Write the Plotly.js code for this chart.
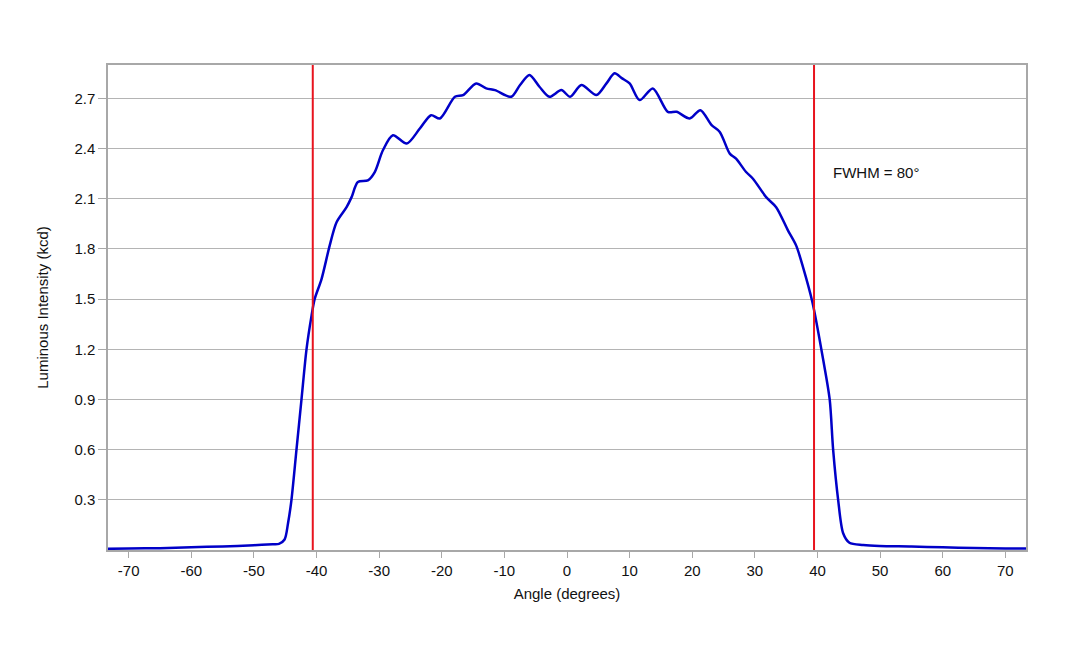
<!DOCTYPE html>
<html>
<head>
<meta charset="utf-8">
<script src="https://cdn.plot.ly/plotly-3.0.1.min.js"></script>
<style>html,body{margin:0;padding:0;background:#fff;}#chart{width:1080px;height:648px;}</style>
</head>
<body>
<div id="chart"></div>
<script>
// Measured luminous intensity profile
const angleDeg = [-73.3, -70, -65, -60, -55, -50, -47, -46, -45.1, -44.55, -44.0, -43.2, -42.4, -41.6, -40.8, -40.3,
  -39.2, -37.9, -36.8, -35.2, -34.4, -33.4, -31.8, -30.7, -29.4, -27.8, -25.6, -23.5, -21.7, -20.3, -17.9, -16.6,
  -14.5, -12.9, -11.5, -8.9, -7.5, -6.0, -4.4, -2.8, -0.9, 0.5, 2.3, 4.7, 6.3, 7.6, 8.8, 10.0, 11.6, 13.7, 16.1, 17.5,
  19.6, 21.3, 23.1, 24.4, 26.0, 27.0, 28.6, 29.7, 31.8, 33.4, 35.3, 36.6, 37.7, 39.2, 40.9, 41.95, 42.5, 43.3, 44.1,
  45.1, 47.3, 49.9, 55, 60, 65, 70, 73.3];
const intensityKcd = [0.007, 0.009, 0.011, 0.017, 0.021, 0.029, 0.035, 0.037, 0.063, 0.16, 0.30, 0.60, 0.90, 1.20, 1.40, 1.50,
  1.62, 1.82, 1.96, 2.05, 2.11, 2.20, 2.21, 2.26, 2.39, 2.48, 2.43, 2.52, 2.60, 2.58, 2.71, 2.72,
  2.79, 2.76, 2.75, 2.71, 2.78, 2.84, 2.77, 2.71, 2.75, 2.71, 2.78, 2.72, 2.79, 2.85, 2.82, 2.79, 2.69, 2.76, 2.62, 2.62,
  2.58, 2.63, 2.54, 2.50, 2.37, 2.34, 2.26, 2.22, 2.11, 2.05, 1.91, 1.82, 1.69, 1.48, 1.14, 0.90, 0.60, 0.30, 0.10,
  0.043, 0.030, 0.024, 0.021, 0.016, 0.012, 0.009, 0.009];
const fwhmEdges = [-40.6, 39.45];
const fwhmLabel = 'FWHM = 80°';
const xTicks = [-70, -60, -50, -40, -30, -20, -10, 0, 10, 20, 30, 40, 50, 60, 70];
const yTicks = [0.3, 0.6, 0.9, 1.2, 1.5, 1.8, 2.1, 2.4, 2.7];
const xRange = [-73.3, 73.3];
const yRange = [0, 2.9];

const traces = [{
  x: angleDeg, y: intensityKcd, type: 'scatter', mode: 'lines',
  line: {color: '#0000c8', width: 2.5, shape: 'spline', smoothing: 0.8},
  hoverinfo: 'x+y', showlegend: false
}];

const shapes = fwhmEdges.map(v => ({
  type: 'line', xref: 'x', yref: 'y', x0: v, x1: v, y0: yRange[0], y1: yRange[1],
  line: {color: '#e8141e', width: 2}
}));

const font = {family: 'Liberation Sans, Arial, sans-serif', size: 15, color: '#111'};
const layout = {
  width: 1080, height: 648,
  margin: {l: 108, r: 54, t: 65, b: 98},
  paper_bgcolor: '#fff', plot_bgcolor: '#fff',
  font: font,
  showlegend: false,
  xaxis: {
    range: xRange, tickvals: xTicks, ticktext: xTicks.map(String),
    showgrid: false, zeroline: false,
    showline: true, linecolor: '#a8a8a8', linewidth: 1.5, mirror: true,
    ticks: 'outside', ticklen: 6, tickcolor: '#a8a8a8', tickwidth: 1,
    tickfont: {family: font.family, size: 15, color: '#111'},
    title: {text: 'Angle (degrees)', font: {family: font.family, size: 15, color: '#111'}, standoff: 11}
  },
  yaxis: {
    range: yRange, tickvals: yTicks, ticktext: yTicks.map(v => v.toFixed(1)),
    showgrid: true, gridcolor: '#b4b4b4', gridwidth: 1.3, zeroline: false,
    showline: true, linecolor: '#a8a8a8', linewidth: 1.5, mirror: true,
    ticks: 'outside', ticklen: 8, tickcolor: '#a8a8a8', tickwidth: 1,
    tickfont: {family: font.family, size: 15, color: '#111'},
    title: {text: 'Luminous Intensity (kcd)', font: {family: font.family, size: 15, color: '#111'}, standoff: 22}
  },
  shapes: shapes,
  annotations: [{
    x: 42.1, y: 2.26, xref: 'x', yref: 'y', text: fwhmLabel, showarrow: false,
    xanchor: 'left', yanchor: 'middle', font: {family: font.family, size: 15, color: '#111'}
  }]
};

Plotly.newPlot('chart', traces, layout, {displayModeBar: false, responsive: false});
</script>
</body>
</html>
